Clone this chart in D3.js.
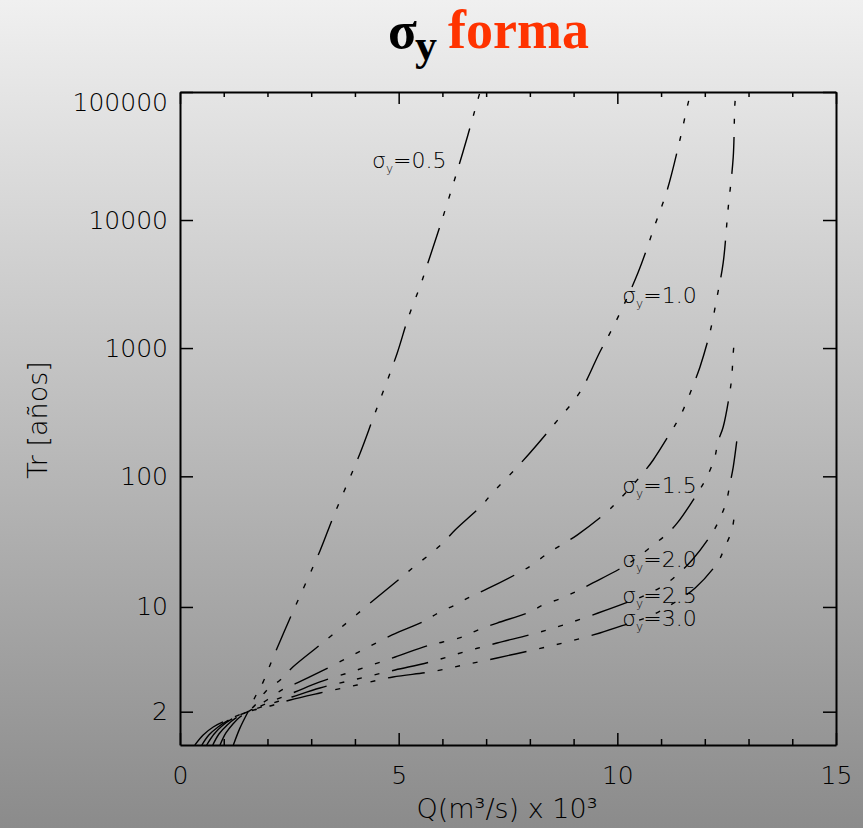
<!DOCTYPE html>
<html><head><meta charset="utf-8">
<script src="https://cdn.jsdelivr.net/npm/d3@7"></script>
<style>body{margin:0;background:#ccc;} svg{display:block;}</style>
</head><body><svg id="c" width="863" height="828"></svg>
<script>
// ---- data (Q in 10^3 m3/s, Tr in years) ----
const sigmas = ["0.5", "1.0", "1.5", "2.0", "2.5", "3.0"];
const q05 = [1.22, 1.37, 1.555, 1.74, 1.90, 2.06, 2.31, 2.56, 3.20, 3.50, 4.12, 4.41, 4.96, 5.21, 5.51, 5.60, 5.99, 6.47, 6.81, 6.86];
const tr05 = [1.395, 1.65, 2.0, 2.49, 2.99, 3.87, 5.85, 8.9, 26.5, 48, 152, 280, 900, 1690, 3170, 3925, 10000, 34000, 87000, 100000];
const q10 = [0.915, 1.05, 1.21, 1.37, 1.555, 1.72, 1.99, 2.29, 2.58, 3.20, 3.48, 4.46, 5.10, 5.37, 5.72, 6.01, 6.29, 6.91, 7.14, 7.43, 8.00, 8.58, 9.15, 9.60, 9.95, 10.47, 10.86, 11.14, 11.43, 11.62, 11.69];
const tr10 = [1.395, 1.568, 1.729, 1.875, 2.0, 2.179, 2.671, 3.085, 3.751, 5.31, 6.25, 11.46, 17.08, 20.3, 25.1, 30.5, 38.4, 59.9, 74.2, 93.6, 151.8, 260, 455, 932, 1568, 3854, 9141, 17150, 42170, 82300, 100000];
const q15 = [0.75, 0.89, 1.08, 1.28, 1.555, 1.99, 2.33, 2.68, 3.20, 4.00, 4.85, 5.60, 5.90, 6.29, 6.63, 7.02, 7.78, 8.05, 8.42, 8.76, 9.08, 9.76, 9.99, 10.29, 10.59, 10.82, 11.25, 11.43, 11.62, 11.78, 11.89, 12.12, 12.28, 12.42, 12.53, 12.65, 12.69, 12.72];
const tr15 = [1.395, 1.551, 1.709, 1.853, 2.0, 2.328, 2.671, 2.953, 3.476, 4.595, 6.25, 7.90, 9.02, 10.34, 11.87, 13.62, 18.3, 20.7, 25.6, 30.0, 35.1, 52.9, 63.2, 81.1, 106.1, 134, 229, 290, 408, 563, 712, 1336, 2505, 4624, 11937, 30980, 82300, 100000];
const q20 = [0.61, 0.78, 0.96, 1.19, 1.555, 2.06, 2.63, 3.20, 4.05, 4.92, 5.72, 6.01, 6.45, 6.82, 7.25, 8.00, 8.30, 8.74, 9.08, 9.44, 10.13, 10.47, 10.82, 11.16, 11.39, 11.85, 12.05, 12.23, 12.30, 12.42, 12.58, 12.62, 12.65, 12.69];
const tr20 = [1.395, 1.551, 1.690, 1.831, 2.0, 2.267, 2.597, 2.997, 3.583, 4.382, 5.31, 5.571, 6.043, 6.79, 7.62, 9.18, 10.34, 11.67, 13.16, 15.12, 19.99, 23.8, 29.4, 36.4, 44.3, 75.6, 98.8, 141.4, 185.1, 242.2, 471, 617, 915, 1266];
const q25 = [0.50, 0.66, 0.87, 1.12, 1.555, 2.06, 2.56, 3.20, 4.05, 4.92, 5.72, 6.49, 7.25, 8.07, 8.76, 9.56, 10.25, 10.70, 11.14, 11.71, 12.17, 12.35, 12.49, 12.58, 12.65, 12.74];
const tr25 = [1.395, 1.535, 1.671, 1.810, 2.0, 2.207, 2.424, 2.748, 3.131, 3.583, 4.052, 4.742, 5.48, 6.35, 7.37, 9.02, 10.89, 12.49, 15.12, 22.6, 36.4, 47.5, 63.2, 88.8, 118.1, 198.8];
const q30 = [0.34, 0.53, 0.76, 1.03, 1.555, 2.06, 2.52, 3.20, 4.05, 4.87, 5.72, 6.49, 7.25, 8.07, 8.85, 9.60, 10.29, 10.70, 11.14, 11.78, 12.30, 12.46, 12.62, 12.69];
const tr30 = [1.395, 1.535, 1.671, 1.789, 2.0, 2.151, 2.328, 2.561, 2.869, 3.225, 3.476, 3.868, 4.312, 4.897, 5.571, 6.46, 7.62, 8.43, 10.0, 13.87, 21.8, 28.4, 38.4, 54.8];
const seriesQ = [q05, q10, q15, q20, q25, q30];
const seriesTr = [tr05, tr10, tr15, tr20, tr25, tr30];
const labelQ = [4.39, 10.11, 10.11, 10.11, 10.11, 10.11];
const labelTr = [25500, 2250, 74.2, 20.0, 10.71, 7.26];
const xTicks = [0, 5, 10, 15];
const xMinor = [1, 2, 3, 4, 6, 7, 8, 9, 11, 12, 13, 14];
const yTicks = [2, 10, 100, 1000, 10000, 100000];
const yTickLabels = ["2", "10", "100", "1000", "10000", "100000"];
const titleMain = "σ", titleSub = "y", titleWord = "forma";
const xTitle = "Q(m³/s) x 10³", yTitle = "Tr [años]";

// ---- layout ----
const L = 180, R = 836, T = 92, B = 745;
const gum = t => -Math.log(-Math.log(1 - 1 / t));   // Gumbel reduced variate
const x = d3.scaleLinear().domain([0, 15]).range([L, R]);
const y = d3.scaleLinear().domain([gum(1.395), gum(100000)]).range([B, T]);

const svg = d3.select("#c");
const defs = svg.append("defs");
const gr = defs.append("linearGradient").attr("id", "bg").attr("x1", 0).attr("y1", 0).attr("x2", 0).attr("y2", 1);
gr.append("stop").attr("offset", "0%").attr("stop-color", "#f0f0f0");
gr.append("stop").attr("offset", "100%").attr("stop-color", "#8b8b8b");
defs.append("clipPath").attr("id", "clip").append("rect").attr("x", L).attr("y", T).attr("width", R - L).attr("height", B - T);
svg.append("rect").attr("width", 863).attr("height", 828).attr("fill", "url(#bg)");

const tickFont = "'DejaVu Sans', sans-serif";
function styleAxis(g, showLabels) {
  g.attr("font-family", tickFont).attr("font-size", 25).attr("font-weight", 200);
  g.select(".domain").attr("stroke", "#000").attr("stroke-width", 2);
  g.selectAll(".tick line").attr("stroke", "#000").attr("stroke-width", 1.5);
  g.selectAll(".tick text").attr("fill", "#000");
  if (!showLabels) g.selectAll(".tick text").remove();
}
// bottom
svg.append("g").attr("transform", `translate(0,${B})`)
  .call(d3.axisBottom(x).tickValues(xTicks).tickSize(-12).tickSizeOuter(0).tickPadding(21).tickFormat(d3.format("d")))
  .call(g => styleAxis(g, true));
svg.append("g").attr("transform", `translate(0,${B})`)
  .call(d3.axisBottom(x).tickValues(xMinor).tickSize(-6).tickSizeOuter(0).tickFormat(""))
  .call(g => { styleAxis(g, false); g.select(".domain").remove(); });
// top
svg.append("g").attr("transform", `translate(0,${T})`)
  .call(d3.axisTop(x).tickValues(xTicks).tickSize(-12).tickSizeOuter(0).tickFormat(""))
  .call(g => styleAxis(g, false));
svg.append("g").attr("transform", `translate(0,${T})`)
  .call(d3.axisTop(x).tickValues(xMinor).tickSize(-5).tickSizeOuter(0).tickFormat(""))
  .call(g => { styleAxis(g, false); g.select(".domain").remove(); });
// left
svg.append("g").attr("transform", `translate(${L},0)`)
  .call(d3.axisLeft(y).tickValues(yTicks.map(gum)).tickSize(-13).tickSizeOuter(0).tickPadding(12)
    .tickFormat((d, i) => yTickLabels[i]))
  .call(g => {
    styleAxis(g, true);
    g.selectAll(".tick text").filter((d, i) => i === yTicks.length - 1).attr("y", 10);
  });
// right
svg.append("g").attr("transform", `translate(${R},0)`)
  .call(d3.axisRight(y).tickValues(yTicks.map(gum)).tickSize(-13).tickSizeOuter(0).tickFormat(""))
  .call(g => styleAxis(g, false));

// curves
const line = d3.line().x(d => x(d[0])).y(d => y(gum(d[1]))).curve(d3.curveCatmullRom.alpha(0.5));
const curves = svg.append("g").attr("clip-path", "url(#clip)");
seriesQ.forEach((qs, k) => {
  const pts = qs.map((q, i) => [q, seriesTr[k][i]]);
  curves.append("path").attr("d", line(pts)).attr("fill", "none")
    .attr("stroke", "#000").attr("stroke-width", 1.4)
    .attr("stroke-dasharray", "37,13,5,13,5,13,5,13");
});

// curve labels
sigmas.forEach((s, k) => {
  const t = svg.append("text").attr("x", x(labelQ[k])).attr("y", y(gum(labelTr[k])))
    .attr("font-family", tickFont).attr("font-size", 22).attr("font-weight", 200).attr("fill", "#000");
  t.append("tspan").text("σ");
  t.append("tspan").attr("font-size", 12).attr("dy", 5).text("y");
  t.append("tspan").attr("dy", -5).text("=" + s);
});

// axis titles
svg.append("text").attr("x", 507).attr("y", 818).attr("text-anchor", "middle")
  .attr("font-family", tickFont).attr("font-size", 27).attr("font-weight", 200).attr("fill", "#000").text(xTitle);
svg.append("text").attr("transform", "translate(47,420) rotate(-90)").attr("text-anchor", "middle")
  .attr("font-family", tickFont).attr("font-size", 27).attr("font-weight", 200).attr("fill", "#000").text(yTitle);

// title
const tf = "'Liberation Serif', 'Times New Roman', serif";
svg.append("text").attr("x", 388).attr("y", 48).attr("font-family", tf).attr("font-weight", "bold")
  .attr("font-size", 53).attr("fill", "#000").text(titleMain);
svg.append("text").attr("x", 415).attr("y", 60).attr("font-family", tf).attr("font-weight", "bold")
  .attr("font-size", 44).attr("fill", "#000").text(titleSub);
svg.append("text").attr("x", 448).attr("y", 48).attr("font-family", tf).attr("font-weight", "bold")
  .attr("font-size", 54).attr("fill", "#ff3300").text(titleWord);
</script></body></html>
